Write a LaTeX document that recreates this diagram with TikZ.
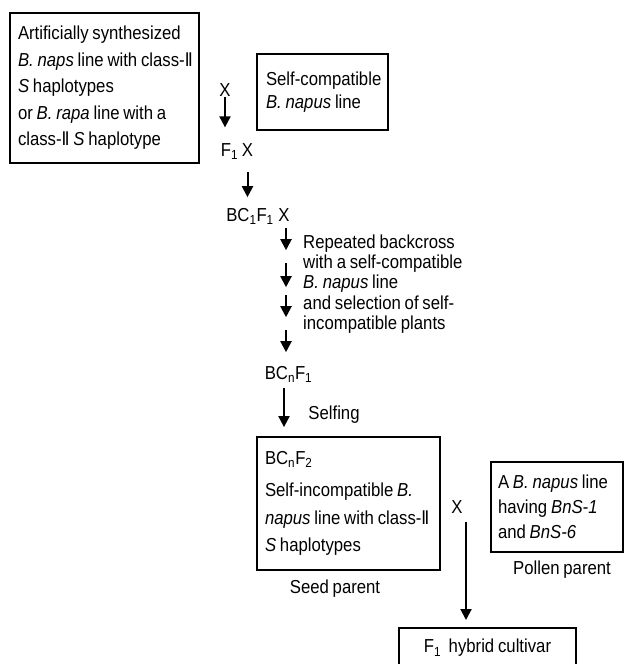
\documentclass[tikz,border=0pt]{standalone}
\usepackage{fontspec}
\setmainfont{Liberation Sans}[FakeStretch=0.89]
\newfontfamily\romfont{DejaVu Sans}[FakeStretch=0.86]
\usetikzlibrary{arrows.meta,calc}
\newcommand\ctwo{{\romfont Ⅱ}}
\newcommand\oneline[1]{\mbox{#1}}
\newcommand\tightsp{\spaceskip=3.8pt plus 1pt minus .5pt\relax}
\newcommand\fsz[1]{\fontsize{18.8}{#1}\selectfont\tightsp}
\begin{document}
\begin{tikzpicture}[x=1pt,y=-1pt,
  every node/.style={font=\fsz{21}, inner sep=0pt},
  box/.style={draw, line width=1.8pt, align=left, inner ysep=0pt,
              execute at begin node={\tightsp}},
  arr/.style={line width=2pt, -{Triangle[width=11pt,length=11pt]}},
]
\useasboundingbox (0,0) rectangle (626,664);
% boxes
\node[box, minimum width=189pt, minimum height=150pt, inner xsep=8pt, text width=173pt,
      font=\fsz{26.5}] (b1) at (104.5,88)
  {Artificially synthesized\\
   \oneline{\textit{B. naps} line with class-\ctwo}\\
   \textit{S} haplotypes\\
   or \textit{B. rapa} line with a\\
   class-\ctwo\ \textit{S} haplotype};
\node[box, minimum width=131pt, minimum height=76pt, inner xsep=9pt, text width=113pt,
      font=\fsz{23}] (b2) at (322.5,92)
  {\oneline{Self-compatible}\\ \textit{B. napus} line};
\node[box, minimum width=183pt, minimum height=133pt, inner xsep=8pt, text width=167pt,
      font=\fsz{27.5}] (b3) at (348.5,503.5)
  {BC\textsubscript{n}F\textsubscript{2}\\[4.5pt]
   \oneline{Self-incompatible \textit{B.}}\\
   \oneline{\textit{napus} line with class-\ctwo}\\
   \textit{S} haplotypes};
\node[box, minimum width=132pt, minimum height=90pt, inner xsep=7pt, text width=118pt,
      font=\fsz{25}] (b4) at (557,507)
  {\oneline{A \textit{B. napus} line}\\ having \textit{BnS-1}\\ and \textit{BnS-6}};
\node[box, anchor=north, minimum width=177pt, inner ysep=11.5pt, text height=13.5pt, text depth=3.5pt,
      align=center] (b5) at (487.5,627)
  {F\textsubscript{1}\ \ hybrid cultivar};
% free texts
\node[anchor=base] (x1) at (225,96.5) {X};
\node[anchor=base] (f1) at (229.5,156.5) {F\textsubscript{1}};
\node[anchor=base] (x2) at (247.5,156.5) {X};
\node[anchor=base] (bc1) at (250,221.5) {BC\textsubscript{1}F\textsubscript{1}};
\node[anchor=base] (x3) at (284,221.5) {X};
\node[anchor=west, align=left, font=\fsz{20.2}] (note) at (303,284)
  {Repeated backcross\\ with a self-compatible\\ \textit{B. napus} line\\
   and selection of self-\\ incompatible plants};
\node[anchor=base] (bcn1) at (288.5,379.5) {BC\textsubscript{n}F\textsubscript{1}};
\node[anchor=base] (self) at (334,419.5) {Selfing};
\node[anchor=base] (seed) at (335,593.5) {Seed parent};
\node[anchor=base] (x4) at (457,513.5) {X};
\node[anchor=base] (pollen) at (562,574.5) {Pollen parent};
% connectors
\draw[arr, shorten <=0.5pt, shorten >=16pt] (x1.south) -- (x1.south |- f1.north);
\draw[arr, shorten <=15.5pt, shorten >=11pt] (x2.south) -- (x2.south |- bc1.north);
\coordinate (k0) at ([xshift=2pt]x3.south);
\foreach \a/\b in {6.5/28.5, 41.5/65.5, 73.5/95.5, 108.5/130.5}
  \draw[arr] ($(k0)+(0,\a)$) -- ($(k0)+(0,\b)$);
\draw[arr, shorten <=5pt, shorten >=9pt] ([xshift=-4.5pt]bcn1.south) -- ([xshift=-4.5pt]bcn1.south |- b3.north);
\draw[arr, shorten <=8.5pt, shorten >=7pt] ([xshift=9pt]x4.south) -- ([xshift=9pt]x4.south |- b5.north);
\end{tikzpicture}
\end{document}
